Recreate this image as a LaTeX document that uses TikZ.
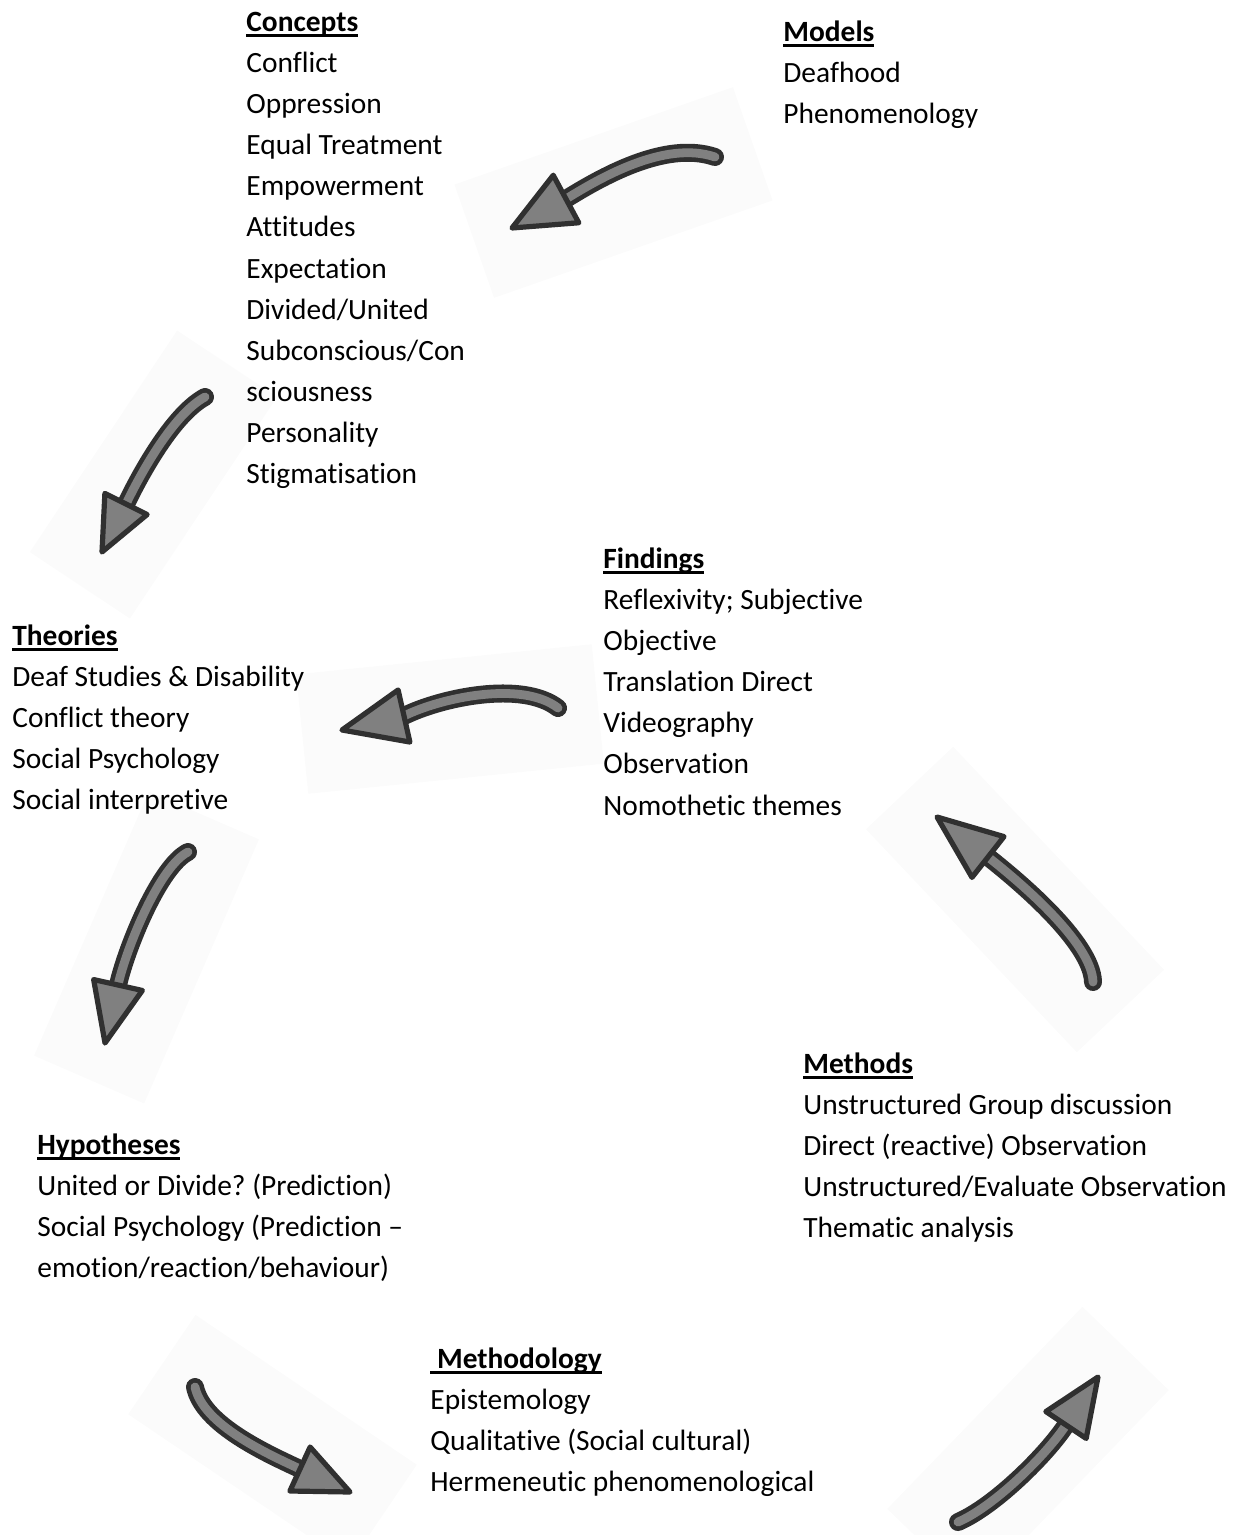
\documentclass[tikz,border=0pt]{standalone}
\usepackage{fontspec}
\setmainfont{Carlito}[Ligatures=NoCommon]
\usepackage{tikz}
\usetikzlibrary{calc}

\definecolor{arrowfill}{HTML}{808080}
\definecolor{arrowline}{HTML}{303030}

% bold heading with a Word-like underline
\newcommand{\cyclehead}[1]{\setbox0\hbox{\bfseries #1}\rlap{\rule[-2.6pt]{\wd0}{1.1pt}}\rule{0pt}{12pt}\box0}

\begin{document}
\frenchspacing
\begin{tikzpicture}[x=0.5pt, y=-0.5pt, font=\fontsize{14.7}{20.55}\selectfont,
    block/.style={anchor=north west, inner sep=0pt, align=left},
    patch/.style={fill=black!1.5, minimum height=60pt, inner sep=0pt},
    shaft/.style={draw=arrowline, line width=9pt, line cap=round},
    shaft core/.style={draw=arrowfill, line width=4.4pt, line cap=round},
    head/.style={fill=arrowfill, draw=arrowline, line width=2.6pt, line join=round}]
  \useasboundingbox (0,0) rectangle (1248,1535);
  % --- the seven bent arrows: tail / controls / head base / tip / barb ---
  \foreach \tx/\ty/\ax/\ay/\bx/\by/\hx/\hy/\px/\py/\w in {
      715/157/665/140/600/178/566/199/512/228/0.44,
      205/397/172/415/139/477/126/504/102/552/0.44,
      558/708/522/680/440/698/404/716/342/730/0.42,
      188/852/160/866/127/946/118/985/105/1043/0.42,
      195/1387/203/1425/268/1454/300/1469/350/1492/0.44,
      958/1522/995/1506/1047/1454/1066/1425/1098/1377/0.42,
      1093/982/1092/942/1016/879/988/857/937/817/0.40}
    {\path let \p1=(\tx,\ty), \p2=(\px,\py),
        \n1={atan2(\y2-\y1,\x2-\x1)}, \n2={veclen(\x2-\x1,\y2-\y1)} in
      node[patch, rotate=\n1, minimum width=\n2+40] at ($(\p1)!0.5!(\p2)$) {};
     \draw[shaft] (\tx,\ty) .. controls (\ax,\ay) and (\bx,\by) .. (\hx,\hy);
     \draw[shaft core] (\tx,\ty) .. controls (\ax,\ay) and (\bx,\by) .. (\hx,\hy);
     \filldraw[head] (\px,\py) -- ($(\hx,\hy)!\w!90:(\px,\py)$)
       -- ($(\hx,\hy)!\w!-90:(\px,\py)$) -- cycle;}
  % --- text blocks ---
  \node[block] (concepts) at (246,7) {\cyclehead{Concepts}\\Conflict\\Oppression\\
    Equal Treatment\\Empowerment\\Attitudes\\Expectation\\Divided/United\\
    Subconscious/Con\\sciousness\\Personality\\Stigmatisation};
  \node[block] (models) at (783,17) {\cyclehead{Models}\\Deafhood\\Phenomenology};
  \node[block] (findings) at (603,544) {\cyclehead{Findings}\\Reflexivity; Subjective\\
    Objective\\Translation Direct\\Videography\\Observation\\Nomothetic themes};
  \node[block] (theories) at (12,621) {\cyclehead{Theories}\\Deaf Studies \& Disability\\
    Conflict theory\\Social Psychology\\Social interpretive};
  \node[block] (methods) at (803,1049) {\cyclehead{Methods}\\Unstructured Group discussion\\
    Direct (reactive) Observation\\Unstructured/Evaluate Observation\\Thematic analysis};
  \node[block] (hypotheses) at (37,1130) {\cyclehead{Hypotheses}\\
    United or Divide? (Prediction)\\Social Psychology (Prediction –\\
    emotion/reaction/behaviour)};
  \node[block] (methodology) at (430,1344) {\cyclehead{\ Methodology}\\Epistemology\\
    Qualitative (Social cultural)\\Hermeneutic phenomenological};
\end{tikzpicture}
\end{document}
